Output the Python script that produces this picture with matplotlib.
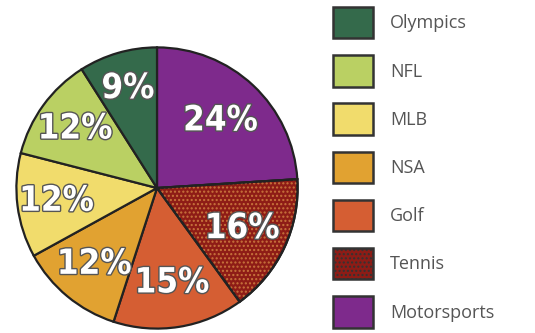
import matplotlib
matplotlib.use("Agg")
import matplotlib.pyplot as plt
import matplotlib.patheffects as pe
from matplotlib.patches import Patch, Wedge
import numpy as np

# data, clockwise from 12 o'clock
sports = ["Motorsports", "Tennis", "Golf", "NSA", "MLB", "NFL", "Olympics"]
shares = [24, 16, 15, 12, 12, 12, 9]
colors = ["#7E2A8C", "#8E1C16", "#D55E33", "#E1A231", "#F1DC6C", "#BAD063", "#346A4B"]
legend_order = ["Olympics", "NFL", "MLB", "NSA", "Golf", "Tennis", "Motorsports"]

fig = plt.figure(figsize=(5.35, 3.33), dpi=100)
ax = fig.add_axes([15 / 535, 3 / 333, 284 / 535, 284 / 333])

wedges, texts = ax.pie(shares, colors=colors, startangle=90, counterclock=False,
                       radius=1.0,
                       wedgeprops=dict(edgecolor="#222222", linewidth=1.6))

# dotted texture on the tennis slice
tw = wedges[sports.index("Tennis")]
ax.add_patch(Wedge(tw.center, tw.r, tw.theta1, tw.theta2, facecolor="none",
                   edgecolor="#C8743C", hatch="....", linewidth=0))
ax.add_patch(Wedge(tw.center, tw.r, tw.theta1, tw.theta2, facecolor="none",
                   edgecolor="#222222", linewidth=1.6))

dist = [0.66, 0.67, 0.68, 0.7, 0.72, 0.72, 0.74]
for w, s, d in zip(wedges, shares, dist):
    ang = np.deg2rad((w.theta1 + w.theta2) / 2)
    ax.text(d * np.cos(ang), d * np.sin(ang), f"{s}%", ha="center", va="center",
            fontsize=25, fontweight="bold", fontstretch="condensed", color="white",
            family="DejaVu Sans",
            path_effects=[pe.withStroke(linewidth=2, foreground="#555555")])

ax.set_xlim(-1.01, 1.01)
ax.set_ylim(-1.01, 1.01)
ax.set_aspect("equal")
ax.axis("off")

handles = []
for name in legend_order:
    i = sports.index(name)
    handles.append(Patch(facecolor=colors[i], edgecolor="#333333", linewidth=1.8,
                         hatch="...." if name == "Tennis" else None, label=name))

fig.legend(handles=handles, loc="upper left", bbox_to_anchor=(324 / 535, 1 + 2 / 333),
           frameon=False, borderpad=0, handlelength=2.2,
           handleheight=2.3, labelspacing=0.93, handletextpad=0.95,
           prop=dict(family="Open Sans", size=13), labelcolor="#555555")

fig.savefig("out.png", dpi=100)
